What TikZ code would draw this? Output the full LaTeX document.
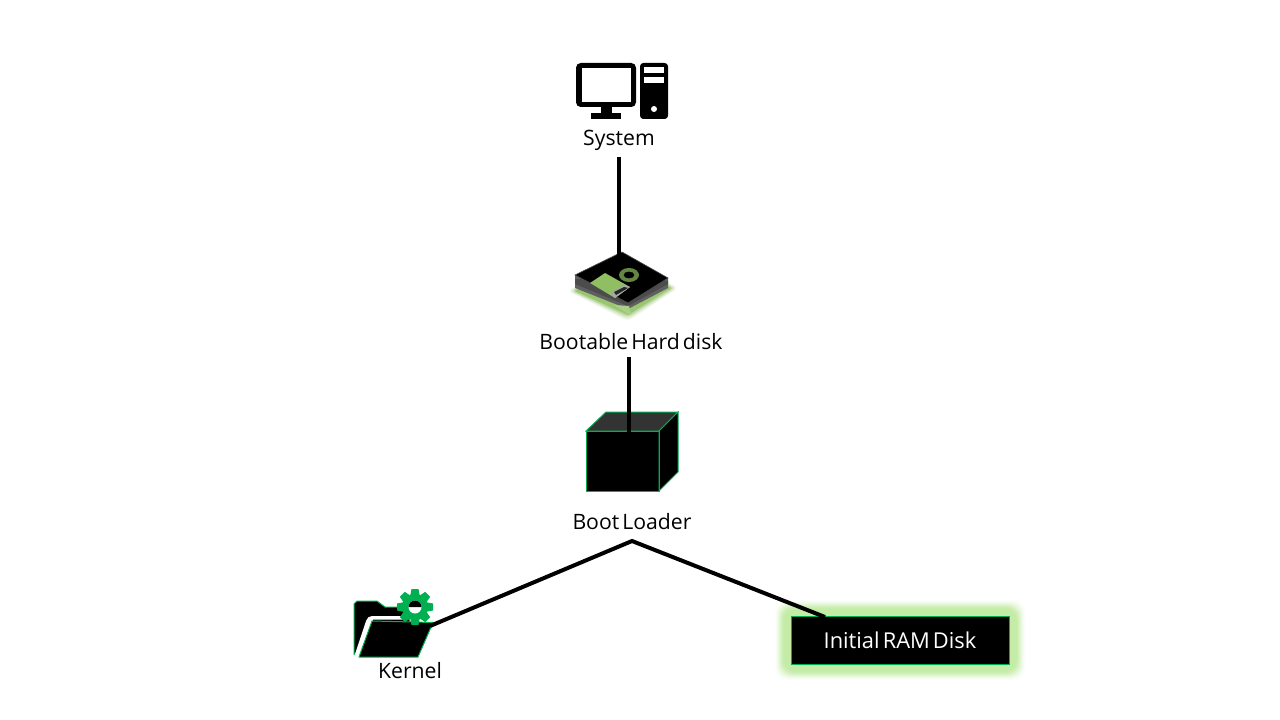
\documentclass[tikz,border=0pt]{standalone}
\usepackage{fontspec}
\setmainfont{Open Sans}[WordSpace=0.55]
\definecolor{edgegreen}{HTML}{00B050}
\definecolor{glowgreen}{HTML}{C4ECA6}
\definecolor{diskgreen}{HTML}{8FBF62}
\tikzset{
  x=0.75pt,y=-0.75pt,
  lbl/.style={font=\fontsize{15.9}{18}\selectfont,text=black,inner sep=0pt,anchor=center},
  link/.style={draw=black,line width=3pt},
  rim/.style={draw=edgegreen,line width=0.75pt,line join=miter},
}
\begin{document}
\begin{tikzpicture}
\useasboundingbox[fill=white] (0,0) rectangle (1280,720);

% System icon
\fill[black,rounded corners=3.5pt] (576,63) rectangle (636,107);
\fill[white] (582,68) rectangle (631,102);
\fill[black] (601,106) rectangle (612,114);
\fill[black] (591,113) rectangle (621,119);
\fill[black,rounded corners=2.5pt] (640,63) rectangle (668,119);
\fill[white] (644,67) rectangle (664,73);
\fill[white] (644,77) rectangle (664,83);
\fill[white] (654,109) circle[radius=3];
\node[lbl] (system) at (619,140) {System};

% Hard disk icon
\foreach \o/\c in {6/15,4/35,2/60}{
  \fill[diskgreen!\c!white,rounded corners=3pt] (574-\o,291) -- (622,265-\o) -- (672+\o,288) -- (628,315+\o) -- cycle;
}
\fill[diskgreen!90!white] (575,291) -- (622,265) -- (671,288) -- (628,315) -- cycle;
\fill[gray!75!black] (575,275) -- (575,288) -- (628,309) -- (668,288) -- (668,278) -- cycle;
\fill[black!70] (575,279) -- (575,284) -- (628,306) -- (668,284) -- (668,281) -- cycle;
\fill[diskgreen!75!white] (614,305) -- (628,314) -- (631,314) -- (629,306) -- cycle;
\fill[black] (575,275) -- (622,252) -- (668,278) -- (628,303) -- cycle;
\draw[gray!60!black,line width=0.5pt] (575,275) -- (622,252) -- (668,278) -- (628,303) -- cycle;
\fill[diskgreen] (590,283) -- (605,273) -- (630,287) -- (615,298) -- cycle;
\fill[gray!70] (611,293) -- (624,285) -- (630,287) -- (615,298) -- cycle;
\fill[black!85] (614,292) -- (624,287) -- (628,288) -- (616,295) -- cycle;
\fill[diskgreen!70!black,even odd rule] (629,275) ellipse[x radius=10,y radius=7] (629,275) ellipse[x radius=5.5,y radius=3.5];
\node[lbl] (disk) at (631,342) {Bootable Hard disk};

% Boot loader cube
\fill[black] (586,431) rectangle (659,491);
\filldraw[rim,fill=black!80] (586,431) -- (606,412) -- (678,412) -- (659,431) -- cycle;
\filldraw[rim,fill=black] (659,431) -- (678,412) -- (678,472) -- (659,491) -- cycle;
\draw[rim] (586,431) rectangle (659,491);
\node[lbl] (loader) at (632,522) {Boot Loader};

% Kernel folder icon
\filldraw[rim,fill=black,line join=round] (354,655) -- (354,604) -- (357,601) -- (377,601) -- (385,607) -- (405,607) -- (410,622) -- (370,640) -- cycle;
\fill[white] (354,657) -- (366,621) .. controls (367,618) and (369,616) .. (372,616) -- (405,616) -- (405,619.5) -- (373,619.5) -- (360,657) -- cycle;
\filldraw[rim,fill=black,line join=round] (359,657) -- (372,621) -- (433,622.5) -- (418,657) -- cycle;
\fill[edgegreen] (415,607) circle[radius=13];
\foreach \a in {0,45,...,315}{
  \fill[edgegreen,rotate around={\a:(415,607)}] (410,597) -- (411.5,589) -- (418.5,589) -- (420,597) -- cycle;
}
\fill[white] (415,607) circle[radius=6.5];
\fill[black] (408.5,607) arc[start angle=180,end angle=360,radius=6.5] -- cycle;
\node[lbl] (kernel) at (410,671) {Kernel};

% Initial RAM disk
\foreach \g/\c in {16/6,15/12,14/22,13/34,12/48,11/62,10/76,9/88,8/96,7/100}{
  \fill[glowgreen!\c!white,rounded corners=9pt] (791-\g,616-\g) rectangle (1009+\g,664+\g);
}
\node[draw=edgegreen,line width=0.75pt,fill=black,text=white,font=\fontsize{16.4}{18}\selectfont,
  minimum width=163.5pt,minimum height=36pt,inner sep=0pt] (ram) at (900,640) {Initial RAM Disk};

% Connector points
\coordinate (sysEnd) at (619,157);
\coordinate (diskTop) at (619,270);
\coordinate (diskEnd) at (629,357);
\coordinate (cubeTop) at (629,432);
\coordinate (peak) at (632,541);
\coordinate (folderEdge) at (430,626);
\coordinate (ramTop) at (825,617);

\draw[link] (sysEnd) -- (diskTop);
\draw[link] (diskEnd) -- (cubeTop);
\draw[link,line join=miter] (folderEdge) -- (peak) -- (ramTop);
\end{tikzpicture}
\end{document}
